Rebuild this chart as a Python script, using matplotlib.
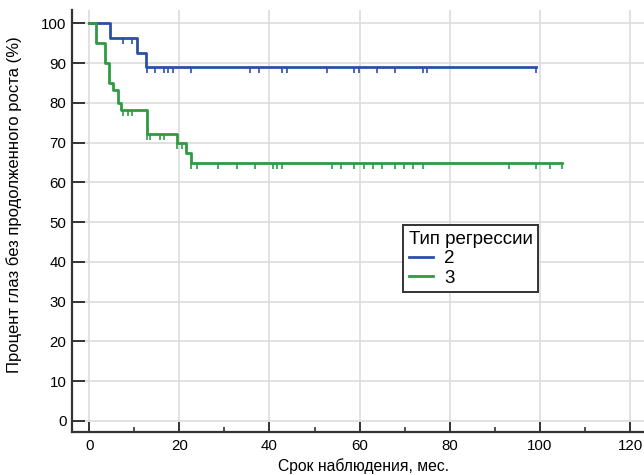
import numpy as np
import matplotlib.pyplot as plt

plt.rcParams['font.family'] = ['Liberation Sans', 'DejaVu Sans']

# Тип регрессии 2
t2 = [0, 4.6, 10.6, 12.6]
s2 = [100, 96.3, 92.6, 88.9]
end2 = 99.1
cens2 = [7.5, 9.5, 12.9, 14.6, 16.6, 17.5, 18.6, 22.6, 35.7, 37.7, 42.7, 43.8,
         52.8, 58.8, 59.9, 63.9, 67.9, 74.0, 75.0, 99.1]

# Тип регрессии 3
t3 = [0, 1.5, 3.5, 4.5, 5.4, 6.5, 7.0, 12.8, 19.5, 21.4, 22.6]
s3 = [100, 95, 90, 85, 83.3, 80, 78.3, 72.2, 70, 67.4, 64.8]
end3 = 105.0
cens3 = [7.6, 8.6, 9.5, 12.9, 13.5, 15.7, 16.6, 19.6, 20.5, 22.7, 23.9, 28.7,
         32.7, 36.7, 40.7, 41.6, 42.7, 53.8, 55.9, 58.8, 61.0, 62.9, 65.0,
         67.9, 69.9, 71.9, 74.0, 93.1, 99.1, 102.2, 105.0]

groups = ['2', '3']
colors = ['#2b50a3', '#2f9a42']

fig = plt.figure(figsize=(6.44, 4.75), dpi=100)
ax = fig.add_axes([0.1118, 0.0905, 0.8882, 0.888])

tick_marker = [(0, 0), (0, -1)]
for t, s, end, cens, name, c in [(t2, s2, end2, cens2, groups[0], colors[0]),
                                  (t3, s3, end3, cens3, groups[1], colors[1])]:
    ax.step(t + [end], s + [s[-1]], where='post', color=c, lw=2.0, label=name,
            zorder=3)
    idx = np.searchsorted(t, cens, side='right') - 1
    lev = np.array(s)[idx]
    ax.plot(cens, lev, ls='none', marker=tick_marker, ms=8, mew=1.2,
            color=c, zorder=3)

ax.set_xlim(-3.8, 123.1)
ax.set_ylim(-2.8, 103.3)
ax.set_xticks(np.arange(0, 121, 20))
ax.set_xticks(np.arange(10, 121, 20), minor=True)
ax.set_yticks(np.arange(0, 101, 10))

ax.grid(True, which='major', color='#dcdcdc', lw=1.2, zorder=0)
for side in ['top', 'right']:
    ax.spines[side].set_visible(False)
for side in ['left', 'bottom']:
    ax.spines[side].set_color('#333333')
    ax.spines[side].set_linewidth(1.6)

ax.tick_params(axis='y', direction='in', length=9, width=1.4, color='#333333',
               labelsize=10.8, pad=4)
ax.tick_params(axis='x', which='major', direction='in', length=7, width=1.4,
               color='#333333', labelsize=10.8, pad=5)
ax.tick_params(axis='x', which='minor', direction='in', length=3.5, width=1.2,
               color='#333333')

ax.set_xlabel('Срок наблюдения, мес.', fontsize=11.3)
ax.set_ylabel('Процент глаз без продолженного роста (%)', fontsize=12)
ax.xaxis.set_label_coords(0.509, -0.062)
ax.yaxis.set_label_coords(-0.088, 0.54)

leg = ax.legend(title='Тип регрессии', loc='upper left',
                bbox_to_anchor=(0.579, 0.49), borderaxespad=0,
                fontsize=13.5, title_fontsize=13.5, fancybox=False,
                framealpha=1, edgecolor='#333333', handlelength=1.3,
                handletextpad=0.6, labelspacing=0.12, borderpad=0.3,
                alignment='left')
leg.get_frame().set_linewidth(1.4)

fig.savefig('out.png', dpi=100)
